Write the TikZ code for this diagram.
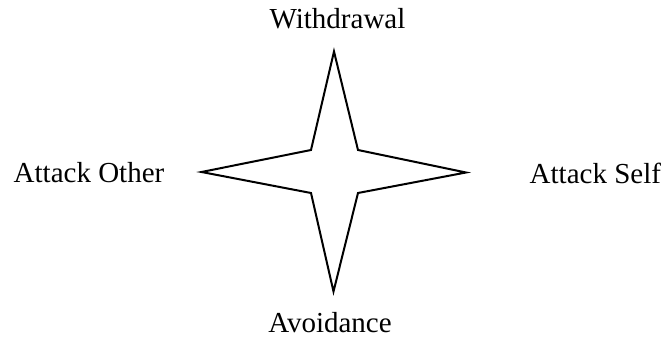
\documentclass[tikz,border=0pt]{standalone}
\usepackage{fontspec}
\setmainfont{Liberation Serif}
\usetikzlibrary{positioning}
\tikzset{
  poslabel/.style={inner sep=0pt,font=\fontsize{14.5}{17}\selectfont},
  starline/.style={draw,line width=1pt,line join=miter,fill=white},
}
\begin{document}
\begin{tikzpicture}[x=0.5pt,y=-0.5pt]
\useasboundingbox (0,0) rectangle (666,337);
% Star: four tips and four inner corners
\coordinate (tipN) at (334,51.5);
\coordinate (tipS) at (333.5,291.5);
\coordinate (tipW) at (201.5,172);
\coordinate (tipE) at (466,172.5);
\coordinate (inNE) at (358,150);
\coordinate (inSE) at (358,193);
\coordinate (inSW) at (311,193);
\coordinate (inNW) at (311,150);
\path[starline] (tipN) -- (inNE) -- (tipE) -- (inSE) -- (tipS)
  -- (inSW) -- (tipW) -- (inNW) -- cycle;
% Labels round the star
\node[poslabel,anchor=base] (withdraw) at (337.5,28.3) {Withdrawal};
\node[poslabel,anchor=base] (avoid) at (330,332.3) {Avoidance};
\node[poslabel,anchor=base west] (atkother) at (13.3,182.3) {Attack Other};
\node[poslabel,anchor=base west] (atkself) at (529.3,183.3) {Attack Self};
\end{tikzpicture}
\end{document}
